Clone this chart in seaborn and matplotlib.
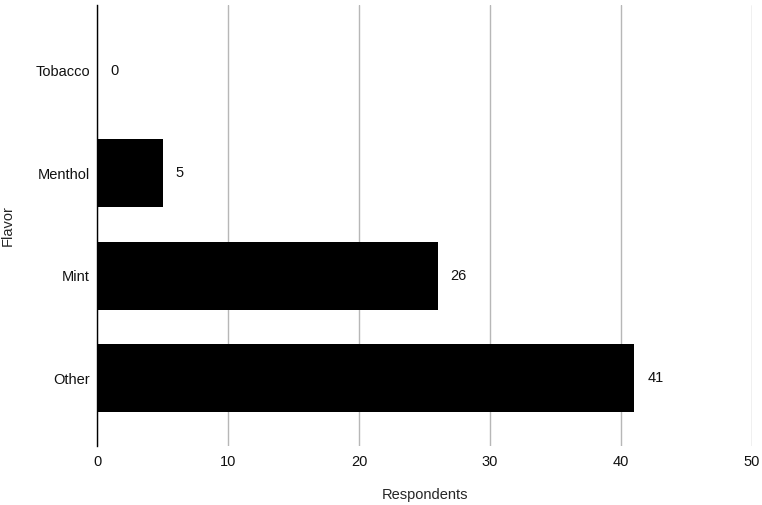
import pandas as pd
import seaborn as sns
import matplotlib.pyplot as plt

# data
flavors = ["Tobacco", "Menthol", "Mint", "Other"]
respondents = [0, 5, 26, 41]
x_ticks = [0, 10, 20, 30, 40, 50]

df = pd.DataFrame({"Flavor": flavors, "Respondents": respondents})

sns.set_style("white")
plt.rcParams["font.family"] = ["Liberation Sans", "DejaVu Sans"]

fig = plt.figure(figsize=(7.62, 5.05), dpi=100)
ax = fig.add_axes([0.1273, 0.117, 0.8596, 0.873])

sns.barplot(data=df, x="Respondents", y="Flavor", orient="h", color="black",
            saturation=1, width=0.66, linewidth=0, ax=ax, zorder=3)

for i, v in enumerate(respondents):
    ax.text(v + 1.0, i, str(v), va="center", ha="left", fontsize=10.5,
            color="#111111")

ax.set_xlim(0, 50)
ax.set_ylim(3.66, -0.64)
ax.set_xticks(x_ticks)
ax.grid(axis="x", color="#b7b7b7", linewidth=1, zorder=0)
ax.grid(axis="y", visible=False)
for s in ["top", "right", "bottom"]:
    ax.spines[s].set_visible(False)
ax.spines["left"].set_color("black")
ax.spines["left"].set_linewidth(1)
ax.spines["left"].set_zorder(5)
ax.tick_params(axis="both", length=0, labelsize=10.5, colors="#111111")
ax.tick_params(axis="x", pad=6.5)
ax.tick_params(axis="y", pad=5)
ax.set_xlabel("Respondents", fontsize=10.5, labelpad=14)
ax.set_ylabel("Flavor", fontsize=10.5, labelpad=15)

fig.savefig("out.png", dpi=100, facecolor="white")
